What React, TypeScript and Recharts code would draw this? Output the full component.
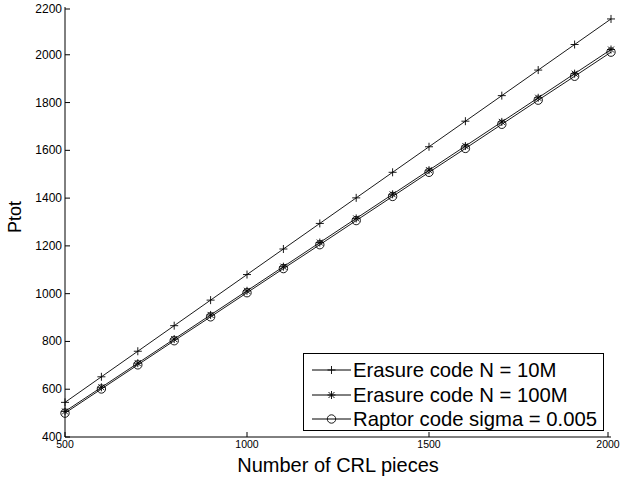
import React from 'react';
import { LineChart, Line, XAxis, YAxis, Legend } from 'recharts';

const FONT = '"Liberation Sans", Arial, Helvetica, sans-serif';

// Number of CRL pieces (x values)
const pieces = [500, 600, 700, 800, 900, 1000, 1100, 1200, 1300, 1400, 1500, 1600, 1700, 1800, 1900, 2000];

// Ptot for each scheme
const erasure10M = [545, 652, 759, 866, 973, 1080, 1187, 1294, 1401, 1508, 1615, 1722, 1829, 1936, 2043, 2150];
const erasure100M = [507, 608, 709, 810, 911, 1012, 1113, 1214, 1315, 1416, 1517, 1618, 1719, 1820, 1921, 2022];
const raptor = [500, 601, 702, 803, 903, 1004, 1105, 1205, 1306, 1407, 1508, 1608, 1709, 1810, 1910, 2011];

const xTicks = [500, 1000, 1500, 2000];
const yTicks = [400, 600, 800, 1000, 1200, 1400, 1600, 1800, 2000, 2200];

const seriesNames = ['Erasure code N = 10M', 'Erasure code N = 100M', 'Raptor code sigma = 0.005'];

const data = pieces.map((p, i) => ({
  pieces: p,
  e10: erasure10M[i],
  e100: erasure100M[i],
  raptor: raptor[i],
}));

type MarkerKind = 'plus' | 'star' | 'circle';

const Marker = ({ cx, cy, kind }: { cx: number; cy: number; kind: MarkerKind }) => {
  const s = 4;
  const d = 3;
  if (kind === 'circle') {
    return <circle cx={cx} cy={cy} r={4.2} fill="none" stroke="#000" strokeWidth={0.9} />;
  }
  return (
    <g stroke="#000" strokeWidth={0.9}>
      <line x1={cx - s} x2={cx + s} y1={cy} y2={cy} />
      <line x1={cx} x2={cx} y1={cy - s} y2={cy + s} />
      {kind === 'star' && (
        <>
          <line x1={cx - d} x2={cx + d} y1={cy - d} y2={cy + d} />
          <line x1={cx - d} x2={cx + d} y1={cy + d} y2={cy - d} />
        </>
      )}
    </g>
  );
};

const makeDot = (kind: MarkerKind) => (props: any) => {
  const { cx, cy, index } = props;
  if (cx == null || cy == null) return <g key={`n-${index}`} />;
  return <Marker key={`${kind}-${index}`} cx={cx} cy={cy} kind={kind} />;
};

const series: { key: string; name: string; kind: MarkerKind }[] = [
  { key: 'e10', name: seriesNames[0], kind: 'plus' },
  { key: 'e100', name: seriesNames[1], kind: 'star' },
  { key: 'raptor', name: seriesNames[2], kind: 'circle' },
];

const TICK_LEN = 5;

const LeftTick = ({ x, y, payload }: any) => (
  <g>
    <text x={x} y={y} textAnchor="end" dominantBaseline="central" fontSize={12} fontFamily={FONT} fill="#000">
      {payload.value}
    </text>
    <line x1={x + 3} x2={x + 3 + TICK_LEN} y1={y} y2={y} stroke="#000" strokeWidth={1} />
  </g>
);

const BottomTick = ({ x, y, payload }: any) => (
  <g>
    <text x={x} y={y} dy="0.71em" textAnchor="middle" fontSize={10.5} fontFamily={FONT} fill="#000">
      {payload.value}
    </text>
    <line x1={x} x2={x} y1={y - 4} y2={y - 4 - TICK_LEN} stroke="#000" strokeWidth={1} />
  </g>
);

const RightTick = ({ x, y }: any) => (
  <line x1={x} x2={x - TICK_LEN} y1={y} y2={y} stroke="#000" strokeWidth={1} />
);

const TopTick = ({ x, y }: any) => (
  <line x1={x} x2={x} y1={y} y2={y + TICK_LEN} stroke="#000" strokeWidth={1} />
);

const LegendBox = () => (
  <div
    style={{
      boxSizing: 'border-box',
      width: 301,
      height: 78,
      border: '1px solid #000',
      background: '#fff',
      paddingTop: 4,
      fontFamily: FONT,
      fontSize: 20.3,
      color: '#000',
    }}
  >
    {series.map((s) => (
      <div key={s.key} style={{ display: 'flex', alignItems: 'center', height: 24.5 }}>
        <svg width={49} height={24} style={{ flex: 'none' }}>
          <line x1={8} x2={47} y1={12} y2={12} stroke="#000" strokeWidth={1} />
          <Marker cx={27.5} cy={12} kind={s.kind} />
        </svg>
        <span style={{ whiteSpace: 'nowrap', lineHeight: '24px' }}>{s.name}</span>
      </div>
    ))}
  </div>
);

const XLabel = ({ viewBox }: any) => (
  <text
    x={viewBox.x + viewBox.width / 2}
    y={viewBox.y + 35}
    textAnchor="middle"
    fontSize={20}
    fontFamily={FONT}
    fill="#000"
  >
    Number of CRL pieces
  </text>
);

const YLabel = ({ viewBox }: any) => {
  const cx = 21;
  const cy = viewBox.y + viewBox.height / 2 - 5;
  return (
    <text
      x={cx}
      y={cy}
      transform={`rotate(-90 ${cx} ${cy})`}
      textAnchor="middle"
      fontSize={18}
      fontFamily={FONT}
      fill="#000"
    >
      Ptot
    </text>
  );
};

export default function App() {
  return (
    <div style={{ position: 'absolute', left: 0, top: 0, width: 624, height: 477, background: '#fff' }}>
      <LineChart width={624} height={477} data={data} margin={{ top: 7, right: 13, bottom: 0, left: 0 }}>
        <XAxis
          xAxisId="bottom"
          dataKey="pieces"
          type="number"
          domain={[500, 2000]}
          ticks={xTicks}
          height={40}
          tickSize={0}
          tickMargin={4}
          tick={<BottomTick />}
          axisLine={{ stroke: '#000', strokeWidth: 1 }}
          tickLine={false}
          label={<XLabel />}
        />
        <XAxis
          xAxisId="top"
          orientation="top"
          dataKey="pieces"
          type="number"
          domain={[500, 2000]}
          ticks={xTicks}
          height={0}
          tickSize={0}
          tickMargin={0}
          tick={<TopTick />}
          axisLine={{ stroke: '#000', strokeWidth: 1 }}
          tickLine={false}
        />
        <YAxis
          yAxisId="left"
          type="number"
          domain={[400, 2200]}
          ticks={yTicks}
          width={65}
          tickSize={0}
          tickMargin={3}
          tick={<LeftTick />}
          axisLine={{ stroke: '#000', strokeWidth: 1 }}
          tickLine={false}
          label={<YLabel />}
        />
        <YAxis
          yAxisId="right"
          orientation="right"
          type="number"
          domain={[400, 2200]}
          ticks={yTicks}
          width={0}
          tickSize={0}
          tickMargin={0}
          tick={<RightTick />}
          axisLine={{ stroke: '#000', strokeWidth: 1 }}
          tickLine={false}
        />
        {series.map((s) => (
          <Line
            key={s.key}
            xAxisId="bottom"
            yAxisId="left"
            dataKey={s.key}
            name={s.name}
            type="linear"
            stroke="#000"
            strokeWidth={0.9}
            dot={makeDot(s.kind)}
            activeDot={false}
            isAnimationActive={false}
          />
        ))}
        <Legend
          layout="vertical"
          align="center"
          verticalAlign="middle"
          content={<LegendBox />}
          wrapperStyle={{ left: 303, top: 353, width: 301, height: 78 }}
        />
      </LineChart>
    </div>
  );
}
